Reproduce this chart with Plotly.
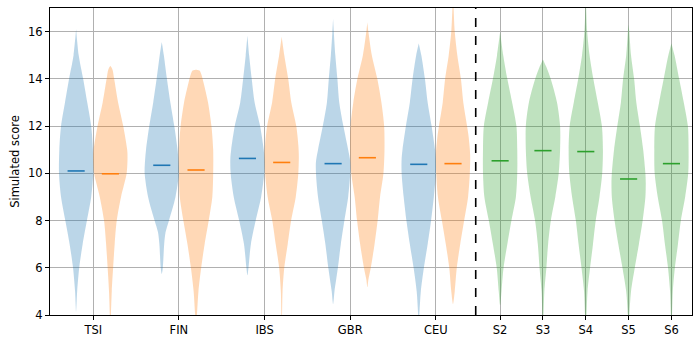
import plotly.graph_objects as go

# ---------------- data ----------------
populations = ["TSI", "FIN", "IBS", "GBR", "CEU"]
samples = ["S2", "S3", "S4", "S5", "S6"]

# medians
pop_median_a = [10.10, 10.34, 10.63, 10.41, 10.38]   # blue series
pop_median_b = [9.98, 10.14, 10.46, 10.66, 10.41]    # orange series
sample_median = [10.53, 10.96, 10.92, 9.76, 10.41]   # green series

# density profiles: (score, relative density)
TSI_a = [(4.15, 0), (5, 0.06), (6, 0.18), (7, 0.38), (8, 0.63), (9, 0.88), (10, 1.0), (11, 0.98),
         (12, 0.88), (13, 0.65), (14, 0.41), (15, 0.15), (16.1, 0)]
TSI_b = [(3.6, 0), (4, 0.03), (5, 0.08), (6, 0.16), (7, 0.25), (8, 0.37), (9, 0.62), (10, 0.95),
         (10.7, 1.0), (11, 0.98), (12, 0.75), (13, 0.45), (14, 0.22), (14.4, 0.12), (14.55, 0)]
FIN_a = [(5.74, 0), (6, 0.06), (7, 0.14), (7.5, 0.22), (8, 0.42), (9, 0.8), (10, 1.0), (10.5, 0.98),
         (11, 0.92), (12, 0.73), (13, 0.5), (14, 0.3), (15, 0.12), (15.56, 0)]
FIN_b = [(3.7, 0), (4, 0.05), (5, 0.14), (6, 0.3), (7, 0.5), (8, 0.74), (9, 0.95), (10, 1.0),
         (11, 1.0), (12, 0.9), (13, 0.7), (13.8, 0.45), (14.2, 0.3), (14.35, 0.2), (14.38, 0)]
IBS_a = [(5.68, 0), (6, 0.06), (7, 0.2), (8, 0.48), (9, 0.8), (10, 0.98), (10.6, 1.0), (11, 0.95),
         (12, 0.74), (13, 0.42), (14, 0.25), (15, 0.1), (15.84, 0)]
IBS_b = [(3.8, 0), (4, 0.02), (5, 0.05), (6, 0.15), (7, 0.35), (8, 0.55), (9, 0.82), (10, 0.97),
         (10.7, 1.0), (11.2, 0.97), (12, 0.85), (13, 0.56), (14, 0.38), (15, 0.15), (15.78, 0)]
GBR_a = [(4.47, 0), (5, 0.08), (6, 0.28), (7, 0.45), (8, 0.66), (9, 0.88), (10, 1.0), (10.5, 1.0),
         (11, 0.88), (12, 0.6), (13, 0.36), (14, 0.25), (15, 0.13), (16, 0.04), (16.55, 0)]
GBR_b = [(5.17, 0), (5.5, 0.06), (6, 0.2), (7, 0.42), (8, 0.6), (9, 0.74), (10, 0.94), (11, 1.0),
         (12, 0.98), (13, 0.82), (14, 0.58), (15, 0.26), (16, 0.06), (16.4, 0)]
CEU_a = [(3.8, 0), (4, 0.03), (5, 0.12), (6, 0.3), (7, 0.52), (8, 0.72), (9, 0.88), (10, 1.0),
         (10.6, 1.0), (11, 0.95), (12, 0.75), (13, 0.52), (14, 0.36), (15, 0.15), (15.5, 0)]
CEU_b = [(4.47, 0), (5, 0.1), (6, 0.22), (7, 0.42), (8, 0.65), (9, 0.88), (10, 0.98), (10.8, 1.0),
         (11.5, 0.92), (12, 0.82), (13, 0.6), (14, 0.46), (15, 0.25), (16, 0.1), (17, 0.03), (17.2, 0)]
S2_c = [(4.42, 0), (5, 0.08), (6, 0.2), (7, 0.42), (8, 0.66), (9, 0.92), (10, 1.0), (11, 1.0),
        (12, 0.95), (13, 0.7), (14, 0.42), (15, 0.18), (15.98, 0)]
S3_c = [(3.8, 0), (4, 0.03), (5, 0.08), (6, 0.2), (7, 0.3), (8, 0.46), (9, 0.72), (10, 0.92),
        (11, 1.0), (12, 1.0), (13, 0.82), (14, 0.45), (14.5, 0.2), (14.82, 0)]
S4_c = [(3.8, 0), (4, 0.04), (5, 0.1), (6, 0.25), (7, 0.42), (8, 0.58), (9, 0.8), (10, 0.96),
        (11, 1.0), (12, 0.94), (13, 0.7), (14, 0.44), (15, 0.22), (16, 0.08), (17, 0.02), (17.2, 0)]
S5_c = [(3.8, 0), (4, 0.04), (5, 0.14), (6, 0.36), (7, 0.6), (8, 0.82), (9, 0.98), (9.6, 1.0),
        (10, 0.98), (11, 0.85), (12, 0.66), (13, 0.45), (14, 0.32), (15, 0.14), (16, 0.04), (16.3, 0)]
S6_c = [(3.8, 0), (4, 0.03), (5, 0.08), (6, 0.2), (7, 0.38), (8, 0.55), (9, 0.8), (10, 0.98),
        (11, 1.0), (12, 0.96), (13, 0.72), (14, 0.45), (15, 0.18), (15.5, 0)]

profiles_a = [TSI_a, FIN_a, IBS_a, GBR_a, CEU_a]
profiles_b = [TSI_b, FIN_b, IBS_b, GBR_b, CEU_b]
profiles_c = [S2_c, S3_c, S4_c, S5_c, S6_c]

# ---------------- style / layout ----------------
BLUE, ORANGE, GREEN = "#1f77b4", "#ff7f0e", "#2ca02c"
WIDTH = 0.8          # full violin width in axis units
OFFSET = 0.4         # pair offset from group tick

pop_pos = [2 * i for i in range(len(populations))]
sample_pos = [9.5 + i for i in range(len(samples))]

fig = go.Figure()


def add_violin(center, profile, color, median):
    ys = [p[0] for p in profile]
    ws = [p[1] * WIDTH / 2 for p in profile]
    xs = [center - w for w in ws] + [center + w for w in reversed(ws)]
    yy = ys + list(reversed(ys))
    fig.add_trace(go.Scatter(
        x=xs, y=yy, mode="lines", fill="toself", fillcolor=color, opacity=0.3,
        line=dict(width=0, color=color, shape="spline", smoothing=0.8),
        hoverinfo="skip", showlegend=False))
    fig.add_trace(go.Scatter(
        x=[center - WIDTH / 4, center + WIDTH / 4], y=[median, median], mode="lines",
        line=dict(color=color, width=1.6), showlegend=False, hoverinfo="skip"))


for pos, pa, pb, ma, mb in zip(pop_pos, profiles_a, profiles_b, pop_median_a, pop_median_b):
    add_violin(pos - OFFSET, pa, BLUE, ma)
    add_violin(pos + OFFSET, pb, ORANGE, mb)
for pos, pc, mc in zip(sample_pos, profiles_c, sample_median):
    add_violin(pos, pc, GREEN, mc)

# dashed separator
fig.add_shape(type="line", x0=8.93, x1=8.93, y0=0, y1=1, yref="paper",
              line=dict(color="black", width=1.6, dash="dash"))

axis_common = dict(showline=True, linecolor="black", linewidth=1, mirror=True,
                   showgrid=True, gridcolor="#b0b0b0", gridwidth=0.8,
                   ticks="outside", ticklen=4, tickcolor="black", zeroline=False,
                   automargin=False,
                   tickfont=dict(family="DejaVu Sans", size=11.5, color="black"))

fig.update_layout(
    width=700, height=338,
    margin=dict(l=50, r=8, t=8, b=23),
    plot_bgcolor="white", paper_bgcolor="white",
    xaxis=dict(range=[-1.01, 13.98], tickvals=pop_pos + sample_pos,
               ticktext=populations + samples, **axis_common),
    yaxis=dict(range=[4, 17], tickvals=[4, 6, 8, 10, 12, 14, 16],
               title=dict(text="Simulated score", standoff=6,
                          font=dict(family="DejaVu Sans", size=11.5, color="black")),
               **axis_common),
    font=dict(family="DejaVu Sans", size=11.5, color="black"),
)

fig.write_html("out.html")
